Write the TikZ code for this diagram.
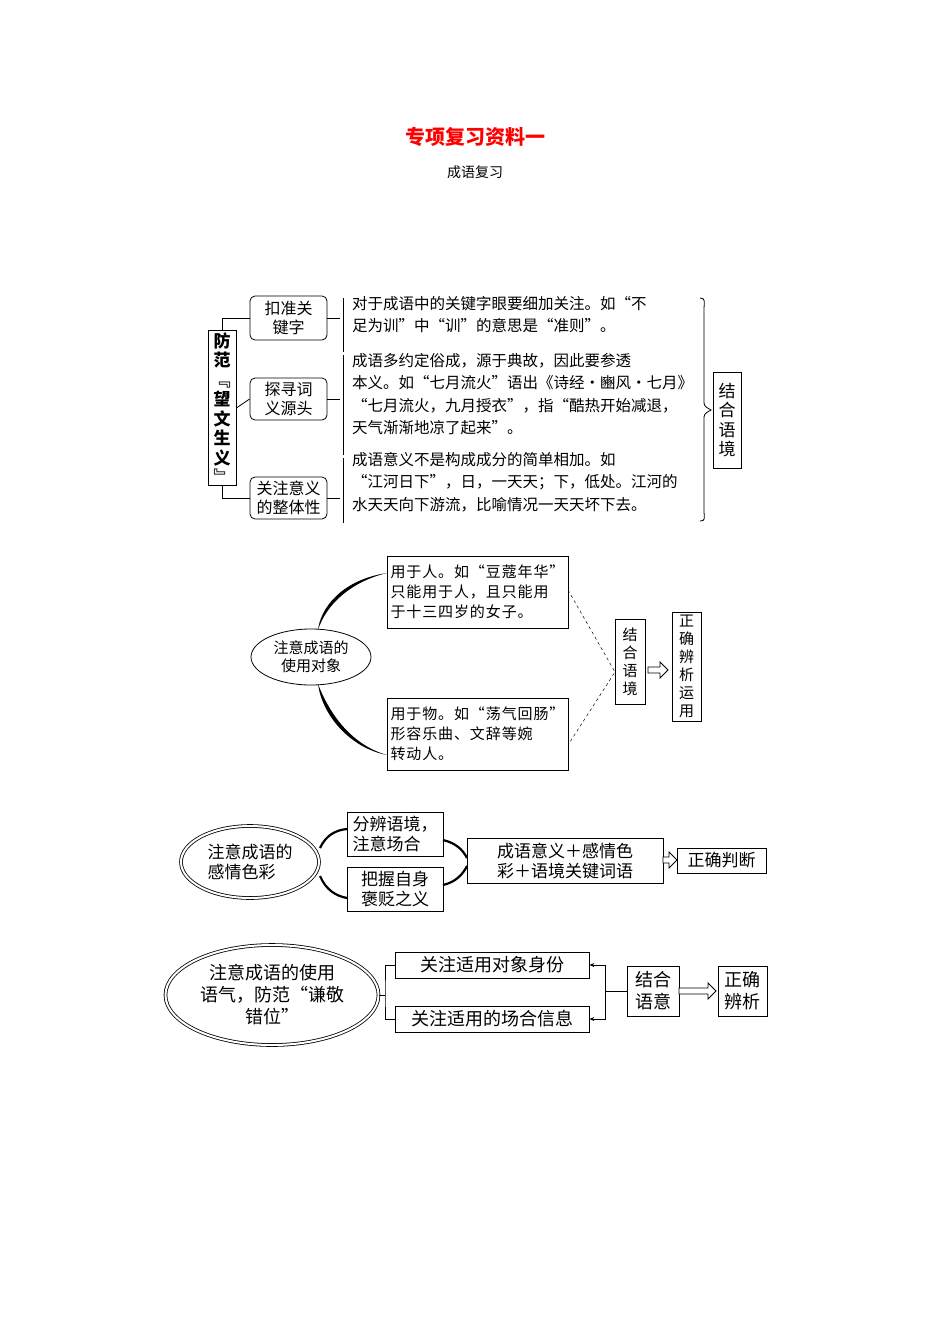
\documentclass[tikz,border=0pt]{standalone}
\usepackage{fontspec}
\setmainfont{Noto Sans CJK SC}
\newfontfamily\spacedb[LetterSpace=6]{Noto Sans CJK SC}
\usetikzlibrary{shapes.geometric,arrows.meta}
\tikzset{
 bx/.style={draw,line width=0.8pt,inner sep=2pt},
 rb/.style={draw,line width=0.8pt,rounded corners=5pt,inner sep=2pt},
 ln/.style={line width=0.8pt},
 vt/.style={bx,align=center,font=\fontsize{15}{18}\selectfont},
 t16/.style={font=\fontsize{15.5}{22.5}\selectfont,align=left,inner sep=0pt,anchor=north west},
}
\newcommand{\hollowarrow}[3]{% x1,x2,y
 \draw[ln,fill=white] (#1,#3-3) -- (#2-8,#3-3) -- (#2-8,#3-8) -- (#2,#3) -- (#2-8,#3+8) -- (#2-8,#3+3) -- (#1,#3+3) -- cycle;}
\begin{document}
\begin{tikzpicture}[x=1pt,y=-1pt]
\useasboundingbox (0,0) rectangle (950,1344);
\node[text=red,font=\fontsize{20}{24}\selectfont\bfseries] (title) at (475,137) {专项复习资料一};
\node[font=\fontsize{14}{16}\selectfont] (sub) at (475,172) {成语复习};

% ---------- section 1
\node[bx,minimum width=28pt,minimum height=146pt,align=center,font=\fontsize{17}{19.5}\selectfont\bfseries] (fang) at (222,408) {防\\范\\﹃\\望\\文\\生\\义\\﹄};
\node[rb,minimum width=77pt,minimum height=44pt,align=center,font=\fontsize{16}{19}\selectfont] (k1) at (288.5,318) {扣准关\\键字};
\node[rb,minimum width=77pt,minimum height=42pt,align=center,font=\fontsize{16}{19}\selectfont] (k2) at (288.5,399) {探寻词\\义源头};
\node[rb,minimum width=77pt,minimum height=42pt,align=center,font=\fontsize{16}{19}\selectfont] (k3) at (288.5,498) {关注意义\\的整体性};
\draw[ln] (fang.north) |- (k1.west);
\draw[ln] (fang.east) -- (k2.west);
\draw[ln] (fang.south) |- (k3.west);
\coordinate (e1) at (340,318); \coordinate (e2) at (340,399); \coordinate (e3) at (340,498);
\draw[ln] (k1.east) -- (e1); \draw[ln] (k2.east) -- (e2); \draw[ln] (k3.east) -- (e3);
\draw[ln] (343,298) -- (343,352);
\draw[ln] (343,355) -- (343,455);
\draw[ln] (343,458) -- (343,523);
\node[t16] (d1) at (352,296) {对于成语中的关键字眼要细加关注。如“不\\足为训”中“训”的意思是“准则”。};
\node[t16] (d2) at (352,353) {成语多约定俗成，源于典故，因此要参透\\本义。如“七月流火”语出《诗经·豳风·七月》\\“七月流火，九月授衣”，指“酷热开始减退，\\天气渐渐地凉了起来”。};
\node[t16] (d3) at (352,452) {成语意义不是构成成分的简单相加。如\\“江河日下”，日，一天天；下，低处。江河的\\水天天向下游流，比喻情况一天天坏下去。};
\draw[ln] (700,298) .. controls (706,298) and (704,302) .. (704,310) -- (704,400) .. controls (704,406) .. (711,410) .. controls (704,414) .. (704,420) -- (704,510) .. controls (704,518) and (706,521) .. (700,521);
\node[vt,minimum width=28pt,minimum height=96pt,font=\fontsize{17}{19.5}\selectfont] (jh1) at (727,420) {结\\合\\语\\境};

% ---------- section 2
\node[draw,ln,ellipse,minimum width=120pt,minimum height=56pt,align=center,font=\fontsize{15}{18}\selectfont] (obj) at (311,657) {注意成语的\\使用对象};
\node[bx,minimum width=181pt,minimum height=72pt,align=left,font=\spacedb\fontsize{15}{20}\selectfont] (p1) at (477.5,592) {用于人。如“豆蔻年华”\\只能用于人，且只能用\\于十三四岁的女子。};
\node[bx,minimum width=181pt,minimum height=72pt,align=left,font=\spacedb\fontsize{15}{20}\selectfont] (p2) at (477.5,734) {用于物。如“荡气回肠”\\形容乐曲、文辞等婉\\转动人。};
\fill (387,573) .. controls (340,580) and (320,610) .. (318,630) .. controls (326,605) and (350,582) .. (387,573);
\fill (318,684) .. controls (322,715) and (350,748) .. (387,755) .. controls (352,745) and (330,715) .. (318,684);
\node[vt,minimum width=30pt,minimum height=85pt,font=\fontsize{15}{18}\selectfont] (jh2) at (630,662) {结\\合\\语\\境};
\node[vt,minimum width=29pt,minimum height=109pt,font=\fontsize{15}{18}\selectfont] (zq2) at (686.5,666.5) {正\\确\\辨\\析\\运\\用};
\draw[ln,dashed,line width=0.5pt] (568,590) -- (615,672) -- (568,745);
\hollowarrow{648}{668}{670}

% ---------- section 3
\node[draw,ln,ellipse,double,double distance=2pt,minimum width=138pt,minimum height=72pt,align=left,font=\fontsize{17}{20}\selectfont] (emo) at (250,862) {注意成语的\\感情色彩};
\node[bx,minimum width=96pt,minimum height=44pt,align=left,font=\fontsize{17}{20}\selectfont] (f1) at (395,834) {分辨语境，\\注意场合};
\node[bx,minimum width=96pt,minimum height=44pt,align=left,font=\fontsize{17}{20}\selectfont] (f2) at (395,889) {把握自身\\褒贬之义};
\node[bx,minimum width=196pt,minimum height=45pt,align=center,font=\fontsize{17}{20}\selectfont] (sum) at (565,860.5) {成语意义＋感情色\\彩＋语境关键词语};
\node[bx,minimum width=89pt,minimum height=25pt,font=\fontsize{17}{20}\selectfont] (pd) at (721.5,860.5) {正确判断};
\draw[line width=2.2pt] (320,848) .. controls (326,835) and (336,830) .. (347,829);
\draw[line width=2.2pt] (320,876) .. controls (326,890) and (336,896) .. (347,898);
\draw[line width=2.2pt] (443,840) .. controls (456,843) and (463,850) .. (467,858);
\draw[line width=2.2pt] (443,885) .. controls (456,882) and (463,874) .. (467,866);
\hollowarrow{663}{677}{860}

% ---------- section 4
\node[draw,ln,ellipse,double,double distance=2pt,minimum width=172pt,minimum height=100pt,align=center,font=\fontsize{18}{22}\selectfont] (tone) at (272,995) {注意成语的使用\\语气，防范“谦敬\\错位”};
\node[bx,minimum width=194pt,minimum height=26pt,font=\fontsize{18}{20}\selectfont] (g1) at (492,965) {关注适用对象身份};
\node[bx,minimum width=194pt,minimum height=26pt,font=\fontsize{18}{20}\selectfont] (g2) at (492,1019) {关注适用的场合信息};
\node[bx,minimum width=52pt,minimum height=50pt,align=center,font=\fontsize{18}{22}\selectfont] (jy) at (653,991) {结合\\语意};
\node[bx,minimum width=49pt,minimum height=50pt,align=center,font=\fontsize{18}{22}\selectfont] (bx4) at (742.5,991) {正确\\辨析};
\coordinate (b4) at (385,995);
\draw[ln] (tone.east) -- (b4);
\draw[ln] (g1.west) -| (b4) |- (g2.west);
\coordinate (c4) at (605,991);
\draw[ln] (jy.west) -- (c4);
\draw[ln,-{Stealth[length=5pt,width=4pt]}] (c4) |- (g1.east);
\draw[ln,-{Stealth[length=5pt,width=4pt]}] (c4) |- (g2.east);
\hollowarrow{679}{716}{991}
\end{tikzpicture}
\end{document}
